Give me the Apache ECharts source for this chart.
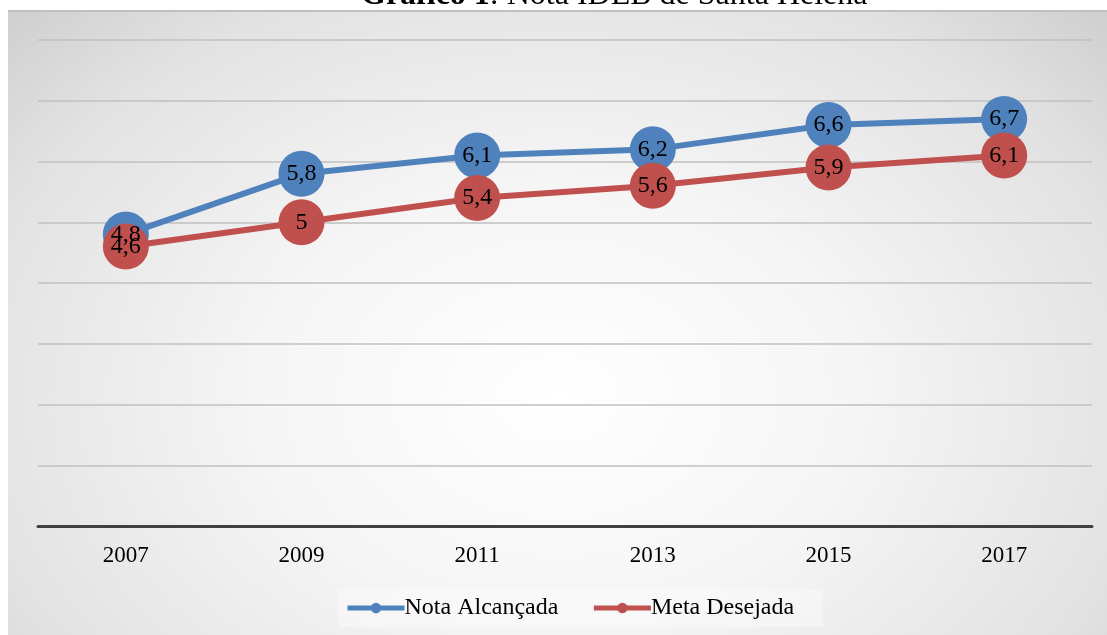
<!DOCTYPE html>
<html>
<head>
<meta charset="utf-8">
<script src="https://cdn.jsdelivr.net/npm/echarts@6/dist/echarts.min.js"></script>
<style>
html,body{margin:0;padding:0;background:#fff;}
#bg{position:absolute;left:8px;top:10px;width:1099px;height:625px;
background:radial-gradient(ellipse 78% 100% at 50% 62%, #ffffff 0%, #f5f5f5 35%, #e2e2e2 70%, #c4c4c4 100%);
border-top:2px solid #bfbfbf;box-sizing:border-box;}
#c{position:absolute;left:0;top:0;width:1107px;height:635px;}
</style>
</head>
<body>
<div id="bg"></div>
<div id="c"></div>
<script>
const categories = ['2007','2009','2011','2013','2015','2017'];
const notaAlcancada = [4.8, 5.8, 6.1, 6.2, 6.6, 6.7];
const metaDesejada = [4.6, 5.0, 5.4, 5.6, 5.9, 6.1];
const seriesNames = ['Nota Alcançada', 'Meta Desejada'];

const chart = echarts.init(document.getElementById('c'), null, {renderer:'canvas'});
const font = '"Liberation Serif", "Times New Roman", serif';
const fmt = p => String(p.value).replace('.', ',');
function mk(name, data, color){
  return {
    name, type:'line', data,
    symbol:'circle', symbolSize:46,
    lineStyle:{color, width:6},
    itemStyle:{color},
    label:{show:true, position:'inside', formatter:fmt, color:'#000', fontSize:24, fontFamily:font},
    emphasis:{disabled:true},
    animation:false
  };
}
chart.setOption({
  backgroundColor:'transparent',
  animation:false,
  title:{
    text:'{b|Gráfico 1}{n|: Nota IDEB de Santa Helena}',
    left:356, top:-25,
    textStyle:{fontWeight:'normal', rich:{
      b:{fontFamily:font, fontSize:32, fontWeight:'bold', color:'#000'},
      n:{fontFamily:font, fontSize:32, fontWeight:'normal', color:'#000'}
    }}
  },
  legend:{
    bottom:8, left:338,
    itemWidth:57, itemHeight:13, itemGap:33,
    backgroundColor:'rgba(255,255,255,0.35)',
    padding:[7,29,7,7],
    lineStyle:{width:5},
    textStyle:{fontFamily:font, fontSize:24, color:'#000', padding:[0,0,0,-5]},
    data:seriesNames
  },
  grid:{left:38, right:15, top:40, bottom:109},
  xAxis:{
    type:'category', data:categories, boundaryGap:true,
    axisLine:{lineStyle:{color:'#404040', width:3}},
    axisTick:{show:false},
    axisLabel:{fontFamily:font, fontSize:23, color:'#000', margin:18}
  },
  yAxis:{
    type:'value', min:0, max:8, interval:1,
    axisLabel:{show:false}, axisLine:{show:false}, axisTick:{show:false},
    splitLine:{lineStyle:{color:'#c0c0c0', width:1.5}}
  },
  series:[mk(seriesNames[0], notaAlcancada, '#4f81bd'), mk(seriesNames[1], metaDesejada, '#c0504d')]
});
</script>
</body>
</html>
